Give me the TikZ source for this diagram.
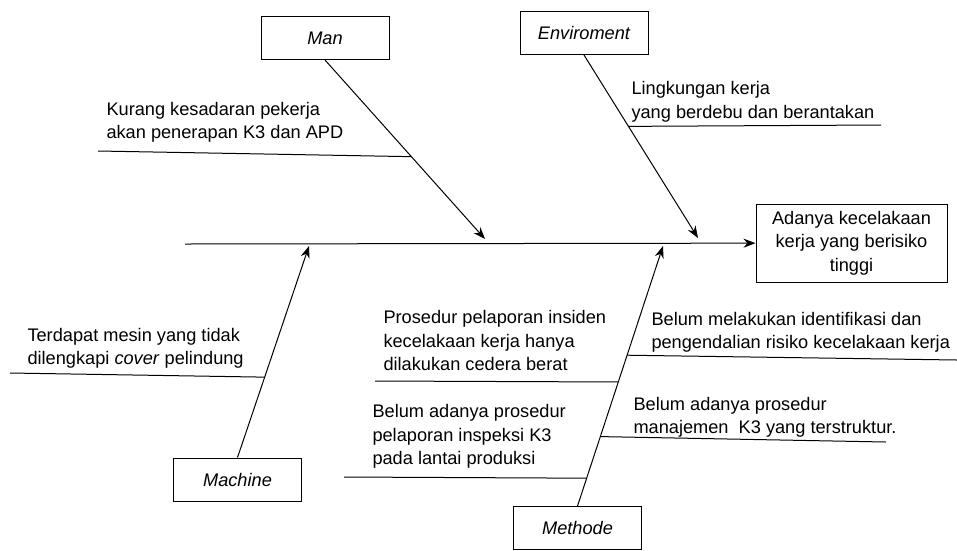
\documentclass[tikz,border=0pt]{standalone}
\usepackage{fontspec}
\setmainfont{Liberation Sans}
\usepackage{tikz}
\usetikzlibrary{calc,arrows.meta}
\newcommand\fbfont{\fontsize{18.2}{23.5}\selectfont}

\begin{document}
\begin{tikzpicture}[x=1pt, y=-1pt, line width=1pt,
	cat/.style={draw, minimum width=128pt, minimum height=43pt, font=\fbfont\itshape},
	cause/.style={anchor=base west, align=left, inner sep=0pt, font=\fbfont},
	>={Stealth[length=12pt,width=9pt]}]

\useasboundingbox (0,0) rectangle (957,550);

% head and spine
\node[draw, minimum width=191pt, minimum height=78pt, align=center, font=\fbfont] (effect) at (851.5,243) {Adanya kecelakaan\\kerja yang berisiko\\tinggi};
\coordinate (tail) at (185,244);
\draw[->] (tail) -- (effect);

% categories
\node[cat] (man) at (325,38) {Man};
\node[cat] (env) at (584,33) {Enviroment};
\node[cat] (mac) at (237.5,479.5) {Machine};
\node[cat] (met) at (577.5,528) {Methode};

\coordinate (manT) at (485,239);
\coordinate (envT) at (698,238);
\coordinate (macT) at (309,246);
\coordinate (metT) at (663,246);

\draw[->] (man.south) -- (manT);
\draw[->] (env.south) -- (envT);
\draw[->] (mac.north) -- (macT);
\draw[->] (met.north) -- (metT);

% causes (anchored on the baseline of the last line)
\node[cause] (manA) at (106,138.8) {Kurang kesadaran pekerja\\akan penerapan K3 dan APD};
\coordinate (manAl) at (98,151);
\draw (manAl) -- ($(man.south)!0.54!(manT)$);

\node[cause] (envA) at (631,118.2) {Lingkungan kerja\\yang berdebu dan berantakan};
\coordinate (envAr) at (881,125);
\draw ($(env.south)!0.39!(envT)$) -- (envAr);

\node[cause] (macA) at (27,364.5) {Terdapat mesin yang tidak\\dilengkapi \textit{cover} pelindung};
\coordinate (macAl) at (10,373);
\draw (macAl) -- ($(mac.north)!0.38!(macT)$);

\node[cause] (metA) at (383,370.5) {Prosedur pelaporan insiden\\kecelakaan kerja hanya\\dilakukan cedera berat};
\coordinate (metAl) at (375,381);
\draw (metAl) -- ($(met.north)!0.477!(metT)$);

\node[cause] (metB) at (372,464.5) {Belum adanya prosedur\\pelaporan inspeksi K3\\pada lantai produksi};
\coordinate (metBl) at (344,477);
\draw (metBl) -- ($(met.north)!0.107!(metT)$);

\node[cause] (metC) at (651,348.7) {Belum melakukan identifikasi dan\\pengendalian risiko kecelakaan kerja};
\coordinate (metCr) at (957,360);
\draw ($(met.north)!0.58!(metT)$) -- (metCr);

\node[cause] (metD) at (633,433.7) {Belum adanya prosedur\\manajemen~ K3 yang terstruktur.};
\coordinate (metDr) at (886,442);
\draw ($(met.north)!0.267!(metT)$) -- (metDr);
\end{tikzpicture}
\end{document}
